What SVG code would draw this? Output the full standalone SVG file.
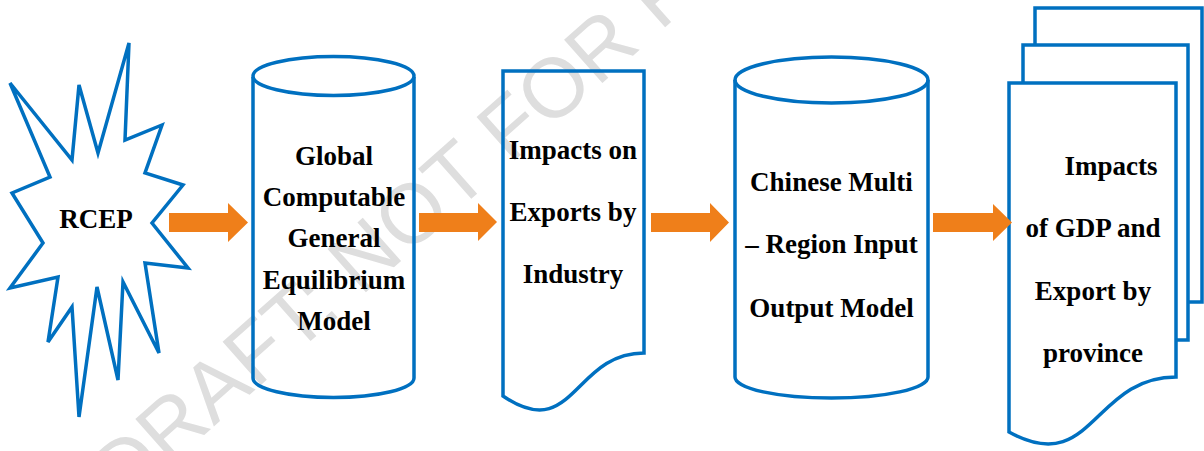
<svg xmlns="http://www.w3.org/2000/svg" width="1204" height="451" viewBox="0 0 1204 451">
<defs>
<style>
.shape{fill:none;stroke:#0070C0;stroke-width:3.5;stroke-linejoin:miter}
.paper{fill:#ffffff;stroke:#0070C0;stroke-width:3.5}
.lbl{font-family:"Liberation Serif","Times New Roman",serif;font-weight:bold;font-size:27px;fill:#000;text-anchor:middle}
.arrow{fill:#EF7F1A}
.wm{font-family:"Liberation Sans",Arial,sans-serif;font-size:84px;fill:#dedede}
</style>
</defs>
<rect width="1204" height="451" fill="#ffffff"/>
<text class="wm" transform="translate(123,507) rotate(-41.5)">DRAFT: NOT FOR R</text>
<g id="rcep">
<polygon class="shape" points="10,83 72,160 79,85 98,153 129,43 125,140 162,125 145,173 183,185 152,223 188,268 145,263 159,353 123,282 118,380 97,287 79,417 72,307 48,342 58,277 10,288 43,243 12,193 50,177"/>
<text class="lbl" x="96" y="228">RCEP</text>
</g>
<g id="cge">
<path class="shape" d="M253,77 V378 A80.5,19.5 0 0 0 414,378 V77"/>
<ellipse class="shape" cx="333.5" cy="76" rx="80.5" ry="19.5"/>
<text class="lbl" x="334" y="165">Global</text>
<text class="lbl" x="334" y="206">Computable</text>
<text class="lbl" x="334" y="247">General</text>
<text class="lbl" x="334" y="289">Equilibrium</text>
<text class="lbl" x="334" y="330">Model</text>
</g>
<g id="exports">
<path class="shape" d="M503,71 H644 V353 C573.5,353 573.5,444 503,396 Z"/>
<text class="lbl" x="573" y="159">Impacts on</text>
<text class="lbl" x="573" y="221">Exports by</text>
<text class="lbl" x="573" y="283">Industry</text>
</g>
<g id="mrio">
<path class="shape" d="M735,80 V377 A96.5,21 0 0 0 928,377 V80"/>
<ellipse class="shape" cx="831.5" cy="80" rx="96.5" ry="23"/>
<text class="lbl" x="831.5" y="191">Chinese Multi</text>
<text class="lbl" x="831.5" y="253">– Region Input</text>
<text class="lbl" x="831.5" y="317">Output Model</text>
</g>
<g id="gdp">
<path class="shape" d="M1035,45 V8 H1202 V302 H1188"/>
<path class="shape" d="M1023,83 V45 H1188 V340 H1176"/>
<path class="paper" d="M1009,83 H1176 V377 C1092.5,377 1092.5,478 1009,432 Z"/>
<text class="lbl" x="1111" y="175">Impacts</text>
<text class="lbl" x="1093" y="237">of GDP and</text>
<text class="lbl" x="1093" y="300">Export by</text>
<text class="lbl" x="1093" y="362">province</text>
</g>
<g id="connectors">
<polygon class="arrow" points="169,213 228,213 228,203 248,222.5 228,242 228,232 169,232"/>
<polygon class="arrow" points="419,213 478,213 478,203 497,222 478,241 478,232 419,232"/>
<polygon class="arrow" points="651,213 710,213 710,203 729,222.5 710,242 710,232 651,232"/>
<polygon class="arrow" points="933,213 993,213 993,204 1012,222.5 993,241 993,232 933,232"/>
</g>
</svg>
